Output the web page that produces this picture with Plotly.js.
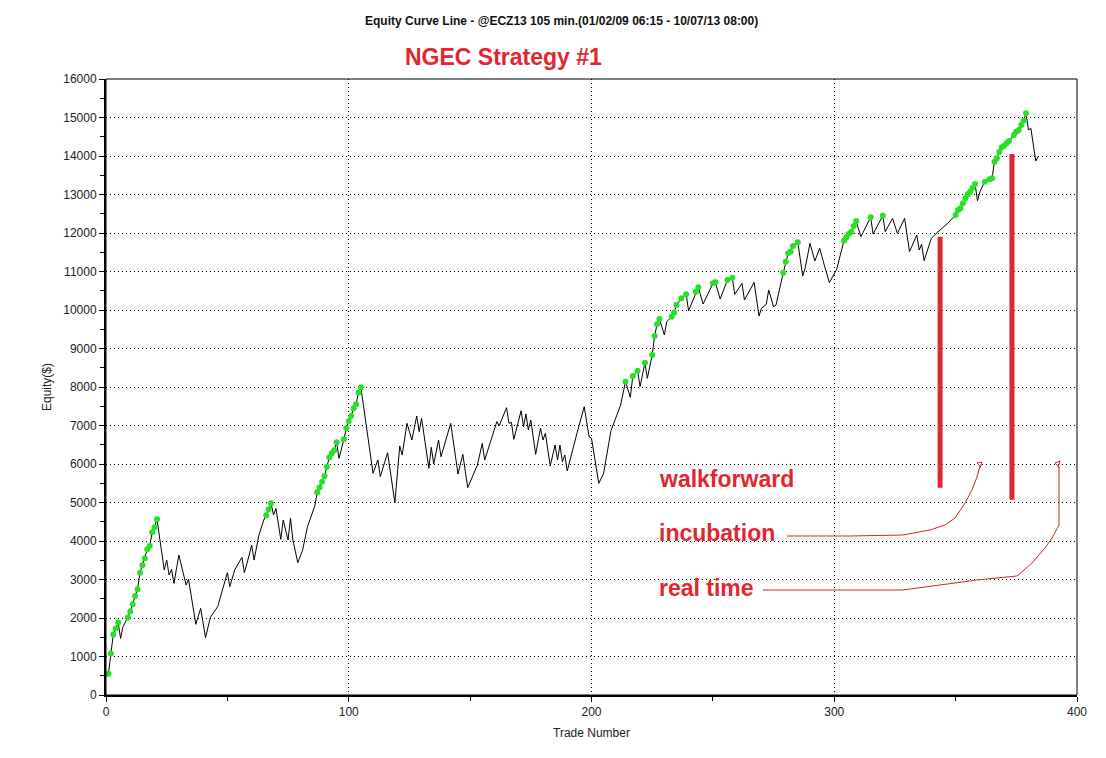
<!DOCTYPE html>
<html>
<head>
<meta charset="utf-8">
<script src="https://cdn.plot.ly/plotly-3.0.1.min.js"></script>
<style>
  html, body { margin: 0; padding: 0; background: #fff; }
  #chart { width: 1106px; height: 758px; }
</style>
</head>
<body>
<div id="chart"></div>
<script>
// Equity curve (trade number -> equity $)
const trades = [
    1, 2, 3, 4, 5, 6, 7, 9, 10, 11, 12, 13, 14, 15, 16, 17, 18, 19, 20, 21,
    24, 25, 26, 27, 28, 30, 33, 34, 37, 39, 41, 43, 46, 48, 50, 51, 53, 56, 57, 59,
    60, 61, 63, 65, 66, 67, 68, 69, 70, 72, 73, 75, 76, 77, 79, 81, 83, 86, 87, 88,
    89, 90, 91, 92, 93, 94, 95, 96, 98, 99, 100, 101, 102, 103, 104, 105,
    110, 112, 113, 116, 119, 121, 122, 124, 126, 128, 129, 130, 133, 134, 135, 137, 138, 142, 145, 147,
    149, 153, 155, 156, 161, 162, 165, 166, 167, 168, 171, 172, 173, 174, 175, 177, 179, 180, 181, 183,
    185, 186, 187, 188, 189, 190, 194, 197, 199, 200, 203, 205, 208, 211, 212,
    214, 216, 217, 219, 220, 222, 223, 225, 226, 227, 228, 230, 231, 233, 234, 235, 237, 239, 240, 243,
    244, 246, 250, 251, 253, 256, 258, 259, 262, 263, 267, 269, 270, 272, 273, 275, 276, 279, 280, 281,
    282, 283, 285, 287, 288, 290, 292, 294, 296, 298, 301, 304, 305, 306, 307, 308, 309, 311, 315, 316,
    320, 321, 324, 326, 329, 331, 334, 335, 336, 337, 340, 342, 346, 350, 351, 352, 353, 354, 355, 356,
    357, 358, 359, 360, 362, 364, 365, 366, 367, 368, 369, 370, 371, 372, 374, 375, 376, 377, 378, 379,
    380, 381, 383, 384
];
const equity = [
    550, 1080, 1570, 1730, 1886, 1472, 1775, 2016, 2171, 2355, 2571, 2745, 3177, 3368, 3550, 3784, 3870, 4225, 4355, 4563,
    3247, 3506, 3117, 3264, 2900, 3636, 2857, 3004, 1836, 2251, 1488, 2018, 2294, 2771, 3177, 2813, 3247, 3576, 3177, 3636,
    3896, 3506, 4156, 4545, 4667, 4823, 4978, 4675, 4848, 4044, 4545, 4026, 4589, 4026, 3437, 3766, 4372, 4909, 5264, 5395,
    5541, 5688, 5930, 6173, 6277, 6355, 6563, 6147, 6641, 6926, 7117, 7247, 7446, 7550, 7852, 7991,
    5758, 6104, 5671, 6294, 4995, 6468, 6234, 7056, 6623, 7247, 6840, 7186, 5888, 6433, 6000, 6623, 6190, 7056, 5740, 6251,
    5385, 5974, 6537, 6104, 7099, 6995, 7463, 7056, 7082, 6641, 7385, 6969, 7299, 6883, 7143, 6251, 6926, 6623, 6797, 5948,
    6494, 6104, 6494, 6061, 6234, 5818, 6797, 7489, 6710, 6667, 5498, 5758, 6860, 7403, 7532,
    8138, 7731, 8286, 8424, 8009, 8632, 8225, 8831, 9325, 9628, 9766, 9351, 9697, 9826, 9931, 10130, 10303, 10407, 9982, 10476,
    10589, 10156, 10693, 10719, 10286, 10779, 10839, 10407, 10693, 10260, 10719, 9844, 10043, 10147, 10519, 10087, 10130, 10969, 11255, 11472,
    11515, 11662, 11758, 10883, 11082, 11732, 11273, 11602, 11143, 10710, 11060, 11801, 11888, 11974, 12034, 12182, 12312, 11905, 12407, 11974,
    12450, 12034, 12381, 11991, 12381, 11515, 11948, 11558, 11706, 11281, 11862, 11991, 12208, 12468, 12597, 12641, 12771, 12900, 13004, 13073,
    13177, 13273, 12840, 13073, 13333, 13394, 13420, 13853, 13939, 14113, 14225, 14268, 14329, 14390, 14545, 14632, 14675, 14805, 14917, 15108,
    14675, 14719, 13870, 13983
];

// green dots sit on every new equity high
const highTrades = [];
const highEquity = [];
let best = -Infinity;
trades.forEach((t, i) => {
    if (equity[i] > best) {
        best = equity[i];
        highTrades.push(t);
        highEquity.push(equity[i]);
    }
});

const red = '#e3262d';
const font = 'Liberation Sans, Arial, sans-serif';

// plot box in page pixels, for the hand drawn notes
const box = { l: 106, r: 1077, t: 79, b: 695 };
const px = x => ((x - box.l) / (box.r - box.l)).toFixed(4);
const py = y => ((box.b - y) / (box.b - box.t)).toFixed(4);
const path = pts => pts.map((p, i) => (i === 0 ? 'M' : 'L') + px(p[0]) + ',' + py(p[1])).join(' ');

const incubationPath = path([
    [787, 536], [850, 536], [903, 535], [930, 530], [945, 525], [955, 518], [965, 503],
    [972, 490], [977, 477], [980, 466], [977, 463], [982, 462], [980, 468]
]);
const realTimePath = path([
    [763, 590], [850, 590], [903, 590], [940, 585], [977, 580], [1017, 576], [1032, 563],
    [1045, 548], [1052, 538], [1059, 525], [1059, 495], [1059, 467], [1055, 463], [1060, 461], [1058, 468]
]);

const traces = [
    {
        x: trades, y: equity, type: 'scatter', mode: 'lines',
        line: { color: '#000', width: 1 }, hoverinfo: 'x+y', showlegend: false
    },
    {
        x: highTrades, y: highEquity, type: 'scatter', mode: 'markers',
        marker: { color: '#27e027', size: 6, line: { width: 0 } }, hoverinfo: 'x+y', showlegend: false
    }
];

const axisBase = {
    showline: true, linecolor: '#000', linewidth: 2,
    ticks: 'outside', ticklen: 5, tickcolor: '#000', tickwidth: 1,
    showgrid: true, gridcolor: '#000', gridwidth: 1, griddash: '1px,3px',
    zeroline: false, tickformat: 'd',
    tickfont: { family: font, size: 12, color: '#222' }
};

const layout = {
    width: 1106, height: 758,
    paper_bgcolor: '#fff', plot_bgcolor: '#fff',
    margin: { l: box.l, r: 1106 - box.r, t: box.t, b: 758 - box.b },
    font: { family: font, color: '#222' },
    xaxis: {
        ...axisBase, range: [0, 400], dtick: 100, tick0: 0,
        minor: { dtick: 50, ticks: 'outside', ticklen: 4, tickcolor: '#000', showgrid: false },
        title: { text: 'Trade Number', standoff: 10, font: { family: font, size: 12, color: '#222' } }
    },
    yaxis: {
        ...axisBase, range: [0, 16000], dtick: 1000, tick0: 0,
        minor: { dtick: 500, ticks: 'outside', ticklen: 4, tickcolor: '#000', showgrid: false },
        title: { text: 'Equity($)', standoff: 9, font: { family: font, size: 12, color: '#222' } }
    },
    shapes: [
        { type: 'rect', xref: 'paper', yref: 'paper', x0: 0, x1: 1, y0: 0, y1: 1, line: { color: '#000', width: 1 } },
        { type: 'line', xref: 'x', yref: 'y', x0: 343.6, x1: 343.6, y0: 5380, y1: 11900, line: { color: red, width: 5 } },
        { type: 'line', xref: 'x', yref: 'y', x0: 373.2, x1: 373.2, y0: 5070, y1: 14050, line: { color: red, width: 5 } },
        { type: 'path', xref: 'paper', yref: 'paper', path: incubationPath, line: { color: '#d02828', width: 1 } },
        { type: 'path', xref: 'paper', yref: 'paper', path: realTimePath, line: { color: '#d02828', width: 1 } }
    ],
    annotations: [
        {
            text: '<b>Equity Curve Line - @ECZ13 105 min.(01/02/09 06:15 - 10/07/13 08:00)</b>',
            xref: 'paper', yref: 'paper', x: px(561.5), y: py(21), xanchor: 'center', yanchor: 'middle',
            showarrow: false, font: { family: font, size: 12, color: '#111' }
        },
        {
            text: '<b>NGEC Strategy #1</b>',
            xref: 'paper', yref: 'paper', x: px(403), y: py(57), xanchor: 'left', yanchor: 'middle',
            showarrow: false, font: { family: font, size: 23, color: red }
        },
        {
            text: '<b>walkforward</b>',
            xref: 'paper', yref: 'paper', x: px(657), y: py(479), xanchor: 'left', yanchor: 'middle',
            showarrow: false, font: { family: font, size: 23, color: red }
        },
        {
            text: '<b>incubation</b>',
            xref: 'paper', yref: 'paper', x: px(657), y: py(533), xanchor: 'left', yanchor: 'middle',
            showarrow: false, font: { family: font, size: 23, color: red }
        },
        {
            text: '<b>real time</b>',
            xref: 'paper', yref: 'paper', x: px(657), y: py(588), xanchor: 'left', yanchor: 'middle',
            showarrow: false, font: { family: font, size: 23, color: red }
        }
    ]
};

Plotly.newPlot('chart', traces, layout, { displayModeBar: false, responsive: false });
</script>
</body>
</html>
